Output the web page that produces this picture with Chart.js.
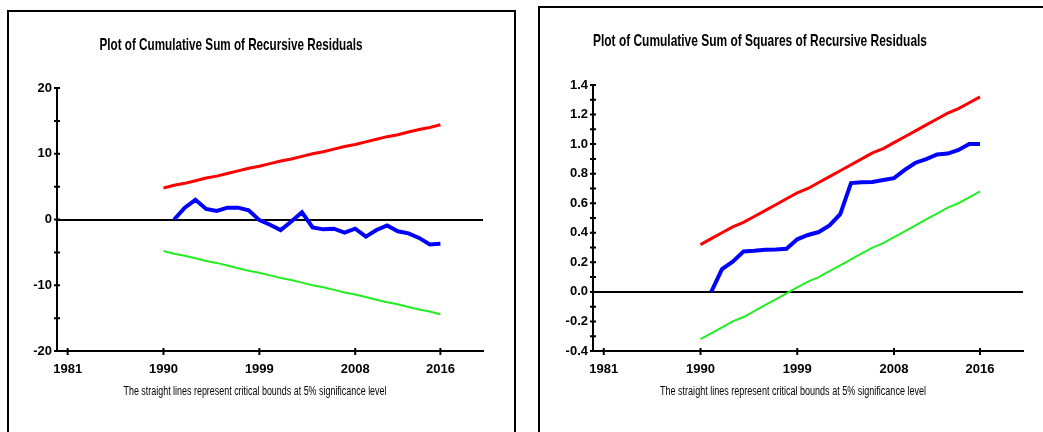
<!DOCTYPE html>
<html>
<head>
<meta charset="utf-8">
<script src="https://cdn.jsdelivr.net/npm/chart.js@4.4.1/dist/chart.umd.min.js"></script>
<style>
  body { margin: 0; background: #fff; width: 1043px; height: 432px; overflow: hidden; position: relative; }
  .box { position: absolute; border: 2px solid #000; box-sizing: border-box; }
  canvas { position: absolute; top: 0; }
</style>
</head>
<body>
<div class="box" style="left:7px; top:10px; width:509px; height:440px;"></div>
<div class="box" style="left:538px; top:6px; width:520px; height:440px;"></div>
<canvas id="cusum" width="520" height="432" style="left:0"></canvas>
<canvas id="cusumsq" width="523" height="432" style="left:520px"></canvas>
<script>
// years
const boundYears = [1990, 1991, 1992, 1993, 1994, 1995, 1996, 1997, 1998, 1999, 2000, 2001, 2002,
    2003, 2004, 2005, 2006, 2007, 2008, 2009, 2010, 2011, 2012, 2013, 2014, 2015, 2016];
const statYears = boundYears.slice(1);
const xTicks = [1981, 1990, 1999, 2008, 2016];

// CUSUM
const cusum = [0, 1.8, 3.0, 1.6, 1.3, 1.8, 1.8, 1.4, -0.1, -0.8, -1.6, -0.3, 1.1, -1.2, -1.5,
    -1.4, -2.0, -1.4, -2.6, -1.6, -0.9, -1.8, -2.1, -2.8, -3.8, -3.7];
const cusumUpper = [4.8, 5.2, 5.5, 5.9, 6.3, 6.6, 7.0, 7.4, 7.8, 8.1, 8.5, 8.9, 9.2, 9.6, 10.0,
    10.3, 10.7, 11.1, 11.4, 11.8, 12.2, 12.6, 12.9, 13.3, 13.7, 14.0, 14.4];
const cusumLower = [-4.8, -5.2, -5.5, -5.9, -6.3, -6.6, -7.0, -7.4, -7.8, -8.1, -8.5, -8.9, -9.2,
    -9.6, -10.0, -10.3, -10.7, -11.1, -11.4, -11.8, -12.2, -12.6, -12.9, -13.3, -13.7, -14.0, -14.4];
const cusumTicks = [-20, -15, -10, -5, 0, 5, 10, 15, 20];
const cusumLabels = [-20, -10, 0, 10, 20];

// CUSUM of squares
const cusumsq = [0, 0.154, 0.205, 0.273, 0.278, 0.285, 0.287, 0.292, 0.356, 0.385, 0.405, 0.45,
    0.526, 0.736, 0.742, 0.744, 0.757, 0.77, 0.826, 0.874, 0.899, 0.93, 0.936, 0.96, 1.0, 1.0];
const sqUpper = [0.32, 0.36, 0.40, 0.44, 0.47, 0.51, 0.55, 0.59, 0.63, 0.67, 0.70, 0.74, 0.78,
    0.82, 0.86, 0.90, 0.94, 0.97, 1.01, 1.05, 1.09, 1.13, 1.17, 1.21, 1.24, 1.28, 1.32];
const sqLower = [-0.32, -0.28, -0.24, -0.20, -0.17, -0.13, -0.09, -0.05, -0.01, 0.03, 0.07, 0.10,
    0.14, 0.18, 0.22, 0.26, 0.30, 0.33, 0.37, 0.41, 0.45, 0.49, 0.53, 0.57, 0.60, 0.64, 0.68];
const sqTicks = [-0.4, -0.3, -0.2, -0.1, 0, 0.1, 0.2, 0.3, 0.4, 0.5, 0.6, 0.7, 0.8, 0.9, 1.0,
    1.1, 1.2, 1.3, 1.4];
const sqLabels = [-0.4, -0.2, 0, 0.2, 0.4, 0.6, 0.8, 1.0, 1.2, 1.4];

const FONT = '"Liberation Sans Narrow", "Arial Narrow", "Liberation Sans", sans-serif';
const note = 'The straight lines represent critical bounds at 5% significance level';

function pts(xs, ys) {
    return ys.map((y, i) => ({ x: xs[i], y: y }));
}

// draw text squeezed to a given width
function fitText(ctx, text, cx, cy, w, font) {
    ctx.save();
    ctx.font = font;
    ctx.fillStyle = '#000';
    ctx.textAlign = 'center';
    ctx.textBaseline = 'middle';
    const sx = w / ctx.measureText(text).width;
    ctx.translate(cx, cy);
    ctx.scale(sx, 1);
    ctx.fillText(text, 0, 0);
    ctx.restore();
}

function textPlugin(title, t, n) {
    return {
        id: 'texts',
        afterDraw(chart) {
            const ctx = chart.ctx;
            fitText(ctx, title, t.x, t.y, t.w, 'bold 17px ' + FONT);
            fitText(ctx, note, n.x, n.y, n.w, '12px ' + FONT);

            // small tick marks crossing both axes
            const xs = chart.scales.x, ys = chart.scales.y;
            ctx.save();
            ctx.strokeStyle = '#000';
            ctx.lineWidth = 2;
            ctx.beginPath();
            xs.ticks.forEach(tk => {
                const px = xs.getPixelForValue(tk.value);
                ctx.moveTo(px, xs.top - 3);
                ctx.lineTo(px, xs.top + 4);
            });
            ys.ticks.forEach(tk => {
                const py = ys.getPixelForValue(tk.value);
                ctx.moveTo(ys.right - 3, py);
                ctx.lineTo(ys.right + 3, py);
            });
            ctx.stroke();
            ctx.restore();
        }
    };
}

function makeChart(id, stat, up, lo, yMin, yMax, ticks, labels, fmt, pad, yWidth, title, t, n) {
    return new Chart(document.getElementById(id), {
        type: 'line',
        data: {
            datasets: [
                { data: pts(boundYears, up), borderColor: '#ff0000', borderWidth: 3 },
                { data: pts(boundYears, lo), borderColor: '#22ee22', borderWidth: 2 },
                { data: pts(statYears, stat), borderColor: '#0000ff', borderWidth: 4 }
            ]
        },
        options: {
            responsive: false,
            animation: false,
            layout: { padding: pad },
            elements: { point: { radius: 0 }, line: { tension: 0 } },
            plugins: { legend: { display: false }, tooltip: { enabled: false } },
            scales: {
                x: {
                    type: 'linear', min: 1980, max: 2020,
                    afterBuildTicks: s => { s.ticks = xTicks.map(v => ({ value: v })); },
                    afterFit: s => { s.height = 81; },
                    border: { color: '#000', width: 2 },
                    grid: { drawOnChartArea: false, drawTicks: false },
                    ticks: {
                        autoSkip: false, maxRotation: 0, padding: 11, color: '#000',
                        font: { family: FONT, size: 13, weight: 'bold' },
                        callback: v => String(v)
                    }
                },
                y: {
                    min: yMin, max: yMax,
                    afterBuildTicks: s => { s.ticks = ticks.map(v => ({ value: v })); },
                    afterFit: s => { s.width = yWidth; },
                    border: { color: '#000', width: 2 },
                    grid: {
                        color: c => (c.tick && c.tick.value === 0) ? '#000' : 'rgba(0,0,0,0)',
                        drawTicks: false, lineWidth: 2
                    },
                    ticks: {
                        autoSkip: false, padding: 5, color: '#000',
                        font: { family: FONT, size: 13, weight: 'bold' },
                        callback: v => labels.includes(v) ? fmt(v) : ''
                    }
                }
            }
        },
        plugins: [textPlugin(title, t, n)]
    });
}

makeChart('cusum', cusum, cusumUpper, cusumLower, -20, 20, cusumTicks, cusumLabels,
    v => String(v), { left: 0, top: 88, right: 37, bottom: 0 }, 57,
    'Plot of Cumulative Sum of Recursive Residuals',
    { x: 231, y: 45, w: 263 }, { x: 255, y: 392, w: 263 });

makeChart('cusumsq', cusumsq, sqUpper, sqLower, -0.4, 1.4, sqTicks, sqLabels,
    v => v.toFixed(1), { left: 0, top: 85, right: 20, bottom: 0 }, 73,
    'Plot of Cumulative Sum of Squares of Recursive Residuals',
    { x: 240, y: 41, w: 334 }, { x: 273, y: 392, w: 266 });
</script>
</body>
</html>
